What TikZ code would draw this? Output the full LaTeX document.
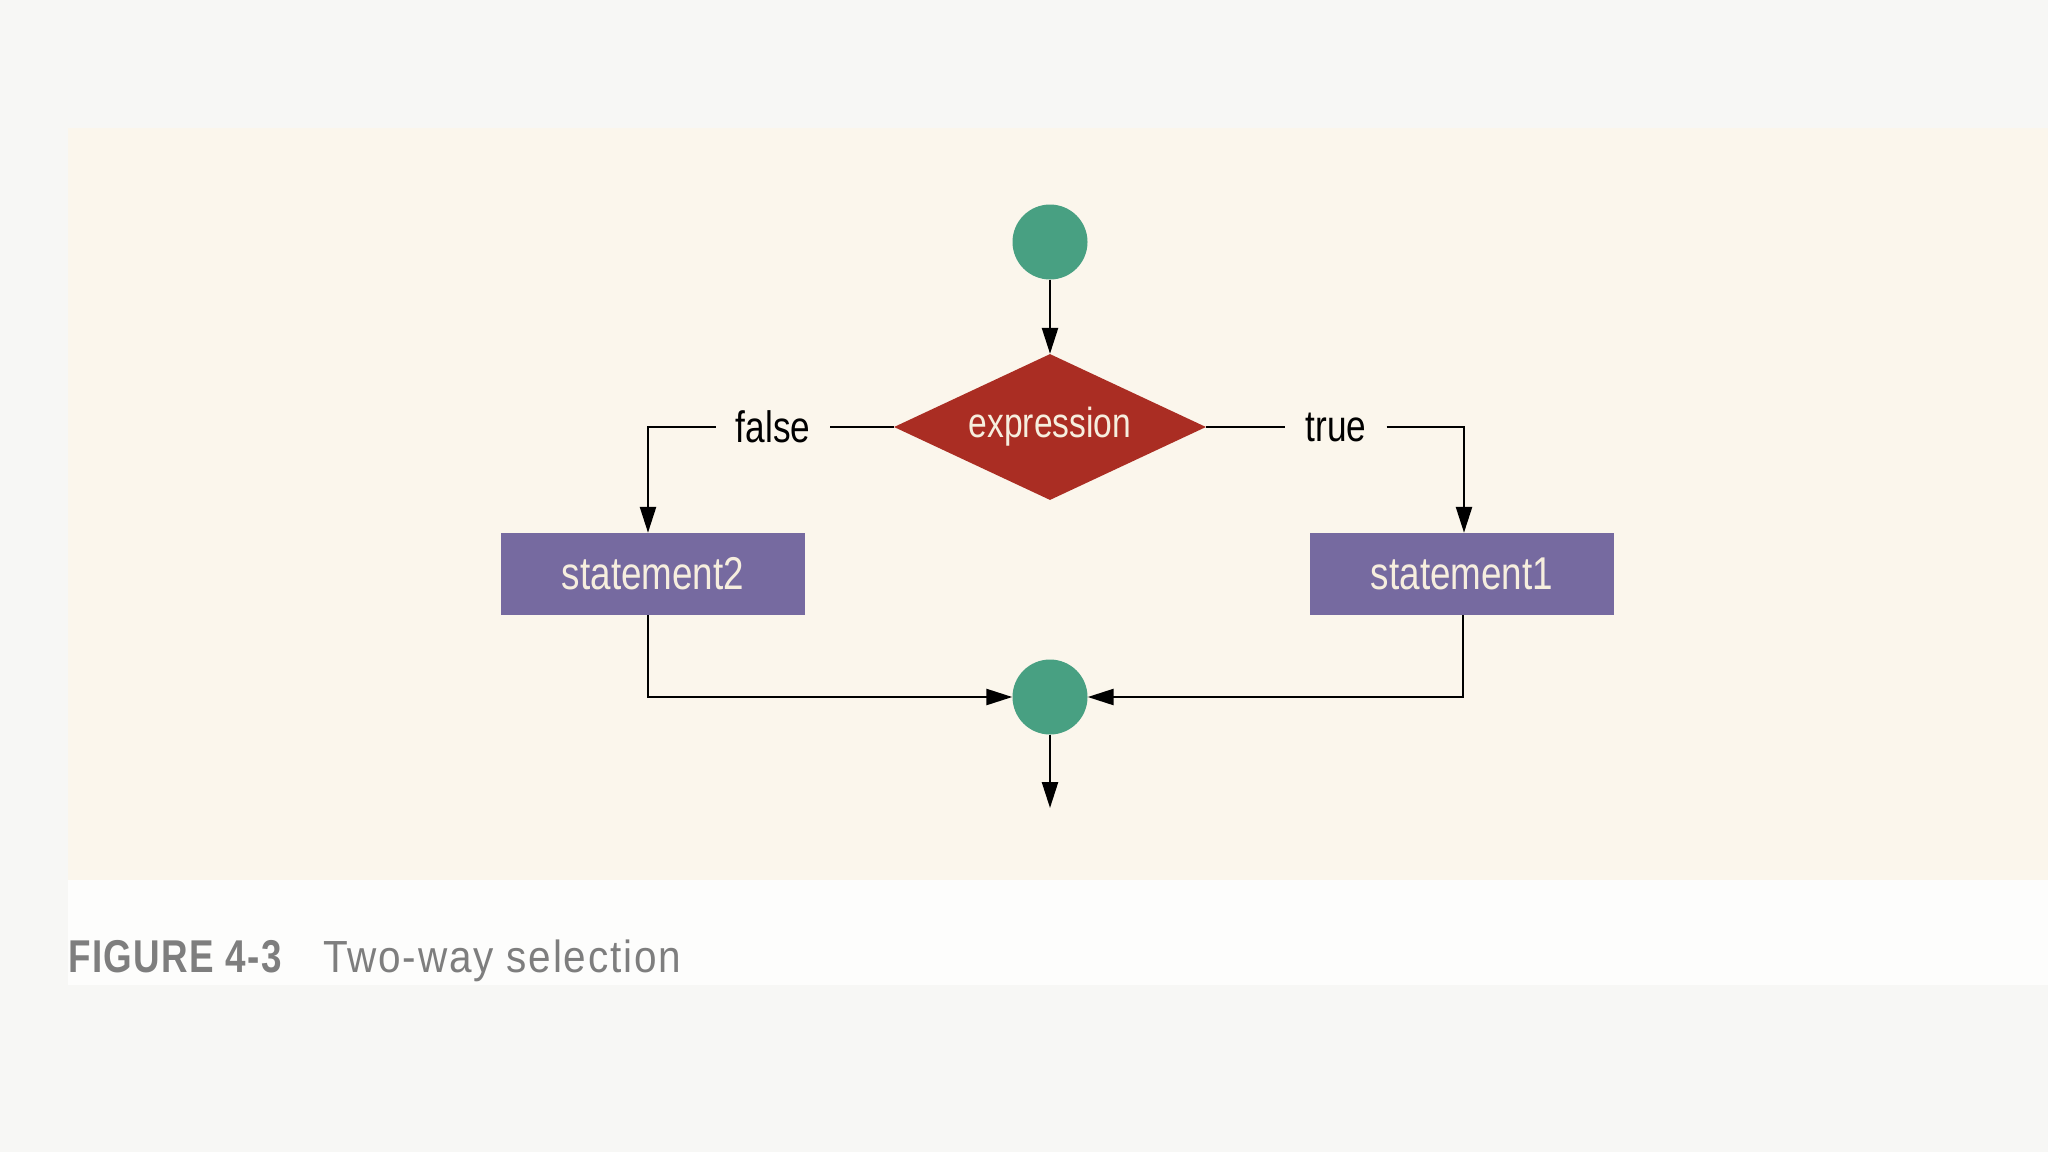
\documentclass[tikz,border=0pt]{standalone}
\usepackage{fontspec}
\usetikzlibrary{shapes.geometric,arrows.meta}
\newfontfamily\condf[FakeStretch=0.8]{Liberation Sans}
\newfontfamily\figf[FakeStretch=0.8,LetterSpace=3]{Liberation Sans}
\newfontfamily\capf[FakeStretch=0.9,LetterSpace=4]{Liberation Sans}
\definecolor{pagebg}{HTML}{F7F7F5}
\definecolor{panelbg}{HTML}{FBF6EC}
\definecolor{tealc}{HTML}{48A082}
\definecolor{redd}{HTML}{AA2D23}
\definecolor{purpb}{HTML}{766AA0}
\definecolor{lighttxt}{HTML}{F6EEDE}
\definecolor{capgray}{HTML}{7E7E7E}
\tikzset{
  dot/.style={circle, fill=tealc, minimum size=75pt, inner sep=0pt},
  decision/.style={diamond, fill=redd, minimum width=312pt, minimum height=146pt, inner sep=0pt, aspect=2.1, text=lighttxt, font=\condf\fontsize{42}{46}\selectfont},
  stmt/.style={rectangle, fill=purpb, minimum width=304pt, minimum height=82pt, inner sep=0pt, text=lighttxt, font=\condf\fontsize{46}{48}\selectfont},
  lbl/.style={fill=panelbg, inner xsep=20pt, inner ysep=4pt, text=black, font=\condf\fontsize{44}{48}\selectfont},
  flow/.style={line width=2.5pt, draw=black, -{Triangle[length=26pt,width=16pt]}},
  plain/.style={line width=2.5pt, draw=black}
}
\begin{document}
\begin{tikzpicture}[x=1pt,y=-1pt]
\useasboundingbox (0,0) rectangle (2048,1152);
\fill[pagebg] (0,0) rectangle (2048,1152);
\fill[panelbg] (68,128) rectangle (2048,880);
\fill[white!70!pagebg] (68,880) rectangle (2048,985);

\node[dot] (c1) at (1050,242) {};
\node[decision] (expr) at (1050,427) {expression};
\node[lbl] (lf) at (773,427) {false};
\node[lbl] (lt) at (1336,427) {true};
\node[stmt] (s2) at (653,574) {statement2};
\node[stmt] (s1) at (1462,574) {statement1};
\node[dot] (c2) at (1050,697) {};
\coordinate (out) at (1050,808);

\draw[flow] (c1.south) -- (expr.north);
\draw[plain] (expr.west) -- (lf.east);
\draw[flow] (lf.west) -| ([xshift=-5pt]s2.north);
\draw[plain] (expr.east) -- (lt.west);
\draw[flow] (lt.east) -| ([xshift=2pt]s1.north);
\draw[flow] ([xshift=-5pt]s2.south) |- (c2.west);
\draw[flow] ([xshift=1pt]s1.south) |- (c2.east);
\draw[flow] (c2.south) -- (out);

\node[anchor=base west, inner sep=0pt, text=capgray, font=\figf\bfseries\fontsize{46}{50}\selectfont] (fig) at (68,972) {FIGURE 4-3};
\node[anchor=base west, inner sep=0pt, text=capgray, font=\capf\fontsize{45}{50}\selectfont] (cap) at (323,972) {Two-way selection};
\end{tikzpicture}
\end{document}
